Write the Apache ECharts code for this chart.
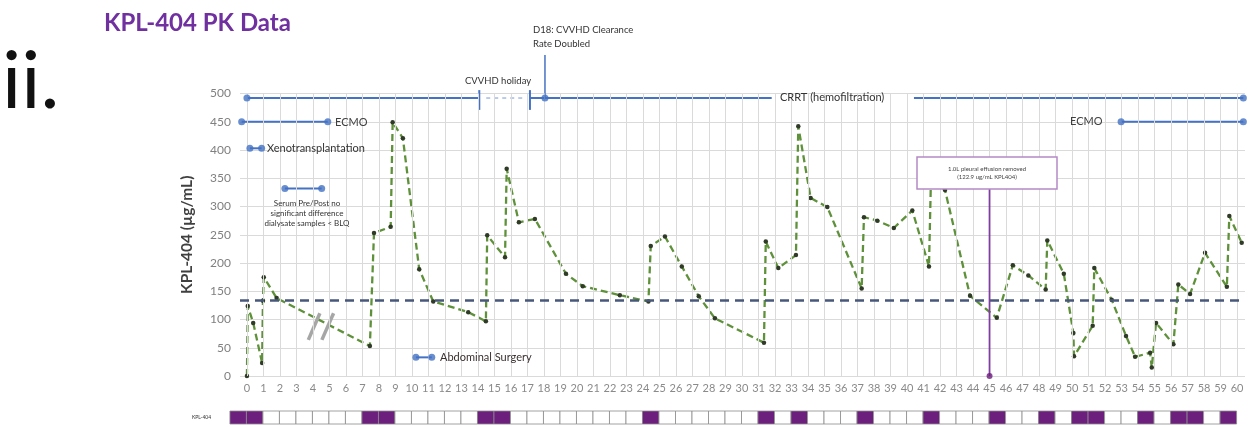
<!DOCTYPE html>
<html><head><meta charset="utf-8">
<script src="https://cdn.jsdelivr.net/npm/echarts@6/dist/echarts.min.js"></script>
<style>html,body{margin:0;padding:0;background:#fff}#c{width:1257px;height:427px}</style>
</head><body><div id="c"></div>
<script>
// ---- data ----
const days = [0, 0.05, 0.38, 0.92, 0.97, 1.02, 1.8, 7.45, 7.7, 8.71, 8.83, 9.45, 10.44, 11.29, 13.41,
  14.48, 14.56, 15.64, 15.74, 16.48, 17.45, 19.33, 20.35, 22.6, 24.33, 24.47, 25.33, 26.35, 27.38, 28.36,
  31.33, 31.44, 32.2, 33.27, 33.41, 34.16, 35.17, 37.25, 37.39, 38.2, 39.2, 40.32, 41.33, 41.45, 42.3,
  43.82, 45.44, 46.41, 47.35, 48.4, 48.5, 49.5, 50.08, 50.12, 51.25, 51.35, 52.4, 53.27, 53.82, 54.73,
  54.83, 55.09, 56.14, 56.44, 57.15, 58.06, 59.38, 59.53, 60.28];
const kpl404 = [0, 124, 94, 23, 133, 175, 138, 53, 253, 264, 449, 421, 189, 132, 113,
  97, 249, 210, 367, 272, 278, 181, 159, 143, 132, 230, 247, 194, 141, 102,
  59, 238, 191, 214, 442, 315, 299, 155, 281, 275, 262, 293, 194, 350, 329,
  142, 103, 196, 178, 153, 240, 181, 76, 35, 89, 191, 135, 71, 34, 41,
  15, 94, 56, 162, 145, 218, 158, 283, 236];
const targetLevel = [134];
const xTickLabels = [0,1,2,3,4,5,6,7,8,9,10,11,12,13,14,15,16,17,18,19,20,21,22,23,24,25,26,27,28,29,30,
  31,32,33,34,35,36,37,38,39,40,41,42,43,44,45,46,47,48,49,50,51,52,53,54,55,56,57,58,59,60];
const stripDays = xTickLabels;
const stripDosed = [1,1,0,0,0,0,0,0,1,1,
  0,0,0,0,0,1,1,0,0,0,
  0,0,0,0,0,1,0,0,0,0,
  0,0,1,0,1,0,0,0,1,0,
  0,0,1,0,0,0,1,0,0,1,
  0,1,1,0,0,1,0,1,1,0,
  1];

// annotation timelines (day, µg/mL)
const crrtSegments = [[[0,492],[14.08,492]], [[17.15,492],[31.8,492]], [[40.42,492],[60.38,492]]];
const crrtTicks = [[[14.08,471],[14.08,506]], [[17.15,471],[17.15,506]]];
const holidaySegment = [[14.5,492],[16.75,492]];
const d18Marker = [[18.06,492],[18.06,568]];
const ecmoSegments = [[[-0.32,450],[4.9,450]], [[52.97,450],[60.38,450]]];
const xenoSegment = [[0.18,403],[0.89,403]];
const serumSegment = [[2.3,332],[4.53,332]];
const surgerySegment = [[10.24,33],[11.2,33]];
const breakMarks = [[[3.72,64],[4.42,111]], [[4.54,64],[5.25,111]]];
const pleuralMarker = [[45,0],[45,331]];
const blueDots = [[0,492],[18.06,492],[60.38,492],[-0.32,450],[4.9,450],[52.97,450],[60.38,450],
  [0.18,403],[0.89,403],[2.3,332],[4.53,332],[10.24,33],[11.2,33]];

// ---- chart ----
const FONT = 'Lato, "Open Sans", sans-serif';
const chart = echarts.init(document.getElementById('c'), null, {renderer: 'canvas'});
const blue = '#4472c4';

function seg(data, color, width, type, z) {
  return {type: 'line', data: data, showSymbol: false, symbol: 'none', clip: false, silent: true,
    lineStyle: {color: color, width: width, type: type || 'solid', opacity: 1}, z: z || 4, animation: false};
}
const series = [];
// vertical grid lines (one per day) + target level
series.push({type: 'line', data: [[0, 0]], symbol: 'none', lineStyle: {opacity: 0}, z: 1, silent: true,
  markLine: {symbol: 'none', silent: true, label: {show: false}, animation: false,
    lineStyle: {color: '#dadada', width: 1, type: 'solid'},
    data: xTickLabels.map(v => ({xAxis: v}))}});
series.push({type: 'line', data: [[0, 0]], symbol: 'none', lineStyle: {opacity: 0}, z: 2, silent: true,
  markLine: {symbol: 'none', silent: true, label: {show: false}, animation: false,
    lineStyle: {color: '#48587a', width: 2.6, type: [9, 6]},
    data: targetLevel.map(v => ({yAxis: v}))}});
// PK data
series.push({type: 'line', data: days.map((d, i) => [d, kpl404[i]]), z: 3, animation: false,
  symbol: 'circle', symbolSize: 4.5, showSymbol: true,
  itemStyle: {color: '#2f3a27'},
  lineStyle: {color: '#5e9139', width: 2.3, type: [7, 4]}});
// annotations
crrtSegments.forEach(s => series.push(seg(s, blue, 2)));
crrtTicks.forEach(s => series.push(seg(s, blue, 2)));
series.push(seg(holidaySegment, '#8faadc', 1.2, [4, 4]));
series.push(seg(d18Marker, blue, 1.5));
ecmoSegments.forEach(s => series.push(seg(s, blue, 2)));
series.push(seg(xenoSegment, blue, 2));
series.push(seg(serumSegment, blue, 2));
series.push(seg(surgerySegment, blue, 2));
breakMarks.forEach(s => series.push(seg(s, '#a6a6a6', 3.5)));
series.push(seg(pleuralMarker, '#7e3fa0', 1.8, 'solid', 5));
series.push({type: 'scatter', data: [pleuralMarker[0]], symbolSize: 6, itemStyle: {color: '#6a1b7a'}, z: 6, silent: true, animation: false});
series.push({type: 'scatter', data: blueDots, symbolSize: 7, itemStyle: {color: blue}, z: 6, clip: false, silent: true, animation: false});
// dosing strip
series.push({type: 'custom', xAxisIndex: 1, yAxisIndex: 1, silent: true, animation: false,
  data: stripDays.map((d, i) => [d, stripDosed[i]]),
  renderItem: function (params, api) {
    const k = api.value(0), dosed = api.value(1);
    const a = api.coord([k - 1.03, 1]);
    const b = api.coord([k - 0.03, 0]);
    return {type: 'rect', shape: {x: a[0], y: a[1], width: b[0] - a[0], height: b[1] - a[1]},
      style: {fill: dosed ? '#6d1f7e' : '#ffffff', stroke: '#8c8c8c', lineWidth: 0.8}};
  }});

const txt = (x, y, text, size, extra) => Object.assign({type: 'text', x: x, y: y, z: 100,
  style: Object.assign({text: text, fontFamily: FONT, fontSize: size, fill: '#333', verticalAlign: 'middle'}, extra || {})});

chart.setOption({
  animation: false,
  backgroundColor: '#fff',
  textStyle: {fontFamily: FONT},
  grid: [
    {left: 240, right: 12, top: 93.5, bottom: 51},
    {left: 240, right: 12, top: 411, height: 13}
  ],
  xAxis: [
    {type: 'value', gridIndex: 0, min: -0.42, max: 60.48,
      axisLine: {show: false}, axisTick: {show: false}, splitLine: {show: false},
      axisLabel: {customValues: xTickLabels, color: '#8a8a8a', fontSize: 11, margin: 7, fontFamily: FONT}},
    {type: 'value', gridIndex: 1, min: -0.42, max: 60.48, show: false}
  ],
  yAxis: [
    {type: 'value', gridIndex: 0, min: 0, max: 500, interval: 50,
      axisLine: {show: false}, axisTick: {show: false},
      splitLine: {lineStyle: {color: '#dadada', width: 1}},
      axisLabel: {color: '#808080', fontSize: 12, margin: 9, fontFamily: FONT},
      name: 'KPL-404 (µg/mL)', nameLocation: 'middle', nameGap: 45,
      nameTextStyle: {fontSize: 15.5, fontWeight: 'bold', color: '#404040', fontFamily: FONT}},
    {type: 'value', gridIndex: 1, min: 0, max: 1, show: false}
  ],
  series: series,
  graphic: [
    txt(104, 23, 'KPL-404 PK Data', 24, {fill: '#7030a0', fontWeight: 'bold'}),
    txt(2, 82, 'ii.', 80, {fill: '#111'}),
    txt(335, 122, 'ECMO', 11, {fill: '#404040'}),
    txt(1070, 121, 'ECMO', 11, {fill: '#404040'}),
    txt(267, 148, 'Xenotransplantation', 11, {fill: '#333'}),
    txt(307, 213, 'Serum Pre/Post no\nsignificant difference\ndialysate samples < BLQ', 8, {fill: '#333', align: 'center', lineHeight: 10}),
    txt(440, 357, 'Abdominal Surgery', 11, {fill: '#3a2f2f'}),
    txt(780, 97, 'CRRT (hemofiltration)', 11, {fill: '#333'}),
    txt(465, 81, 'CVVHD holiday', 9.5, {fill: '#333'}),
    txt(533, 37, 'D18: CVVHD Clearance\nRate Doubled', 9.5, {fill: '#333', lineHeight: 14}),
    txt(192, 417, 'KPL-404', 5, {fill: '#333'}),
    {type: 'rect', z: 100, shape: {x: 917, y: 157, width: 140, height: 32},
      style: {fill: '#fff', stroke: '#b48ac6', lineWidth: 1.5}},
    txt(987, 173, '1.0L pleural effusion removed\n(122.9 ug/mL KPL404)', 6, {fill: '#444', align: 'center', lineHeight: 8})
  ]
});
</script>
</body></html>
